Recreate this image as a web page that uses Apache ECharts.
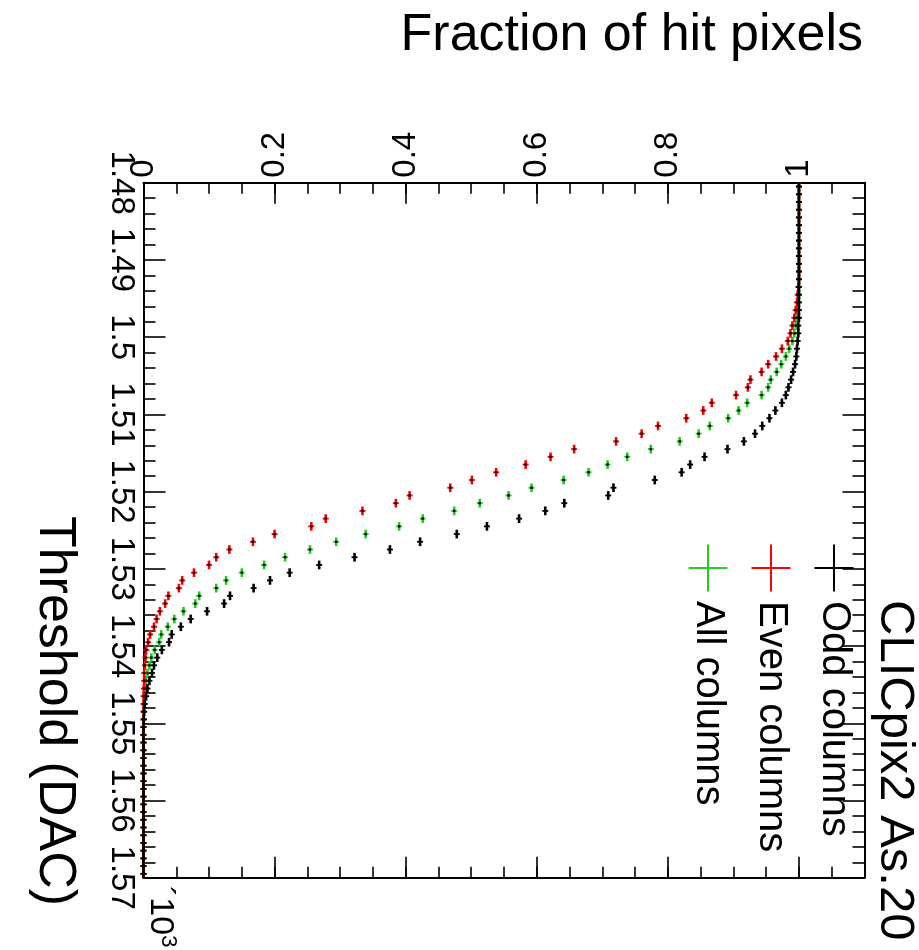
<!DOCTYPE html>
<html>
<head>
<meta charset="utf-8">
<script src="https://cdn.jsdelivr.net/npm/echarts@6/dist/echarts.min.js"></script>
<style>
  html, body { margin: 0; padding: 0; background: #fff; }
  #chart { width: 919px; height: 950px; }
</style>
</head>
<body>
<div id="chart"></div>
<script>
// Threshold bins (lower edge, DAC); each bin is 1 DAC wide
const bins = [
  1480,1481,1482,1483,1484,1485,1486,1487,1488,1489,
  1490,1491,1492,1493,1494,1495,1496,1497,1498,1499,
  1500,1501,1502,1503,1504,1505,1506,1507,1508,1509,
  1510,1511,1512,1513,1514,1515,1516,1517,1518,1519,
  1520,1521,1522,1523,1524,1525,1526,1527,1528,1529,
  1530,1531,1532,1533,1534,1535,1536,1537,1538,1539,
  1540,1541,1542,1543,1544,1545,1546,1547,1548,1549,
  1550,1551,1552,1553,1554,1555,1556,1557,1558,1559,
  1560,1561,1562,1563,1564,1565,1566,1567,1568,1569
];
// Fraction of hit pixels per bin
const oddCols = [
  1,1,1,1,1,1,1,1,1,1,
  1,1,1,1,1,1,1,1,0.999,0.999,
  0.998,0.997,0.996,0.994,0.991,0.988,0.984,0.980,0.974,0.964,
  0.955,0.944,0.933,0.916,0.891,0.856,0.834,0.821,0.780,0.717,
  0.709,0.642,0.613,0.573,0.524,0.478,0.422,0.376,0.322,0.268,
  0.223,0.193,0.168,0.132,0.123,0.097,0.072,0.057,0.043,0.039,
  0.028,0.021,0.016,0.013,0.009,0.006,0.004,0.002,0.001,0.0005,
  0,0,0,0,0,0,0,0,0,0,
  0,0,0,0,0,0,0,0,0,0
];
const evenCols = [
  1,1,1,1,1,1,1,1,1,1,
  1,1,1,0.999,0.998,0.997,0.995,0.993,0.990,0.987,
  0.983,0.974,0.965,0.953,0.943,0.926,0.922,0.904,0.867,0.854,
  0.828,0.785,0.760,0.721,0.657,0.621,0.583,0.538,0.501,0.468,
  0.406,0.385,0.334,0.278,0.256,0.200,0.167,0.131,0.111,0.100,
  0.077,0.059,0.054,0.038,0.033,0.025,0.020,0.016,0.010,0.007,
  0.004,0.003,0.002,0.001,0.001,0.0005,0,0,0,0,
  0,0,0,0,0,0,0,0,0,0,
  0,0,0,0,0,0,0,0,0,0
];
const allCols = [
  1,1,1,1,1,1,1,1,1,1,
  1,1,1,1,1,0.999,0.998,0.997,0.995,0.993,
  0.990,0.985,0.980,0.973,0.966,0.957,0.953,0.943,0.921,0.908,
  0.892,0.864,0.847,0.818,0.774,0.738,0.708,0.679,0.641,0.592,
  0.557,0.513,0.474,0.426,0.390,0.339,0.294,0.254,0.216,0.184,
  0.150,0.126,0.111,0.085,0.079,0.061,0.047,0.037,0.027,0.024,
  0.017,0.012,0.009,0.006,0.004,0.003,0.002,0.001,0.0005,0,
  0,0,0,0,0,0,0,0,0,0,
  0,0,0,0,0,0,0,0,0,0
];
const fracTicks = [0, 0.2, 0.4, 0.6, 0.8, 1];
const seriesNames = ['Odd columns', 'Even columns', 'All columns'];
const seriesColors = ['#000000', '#ff0000', '#22cc22'];
const legendHeader = 'CLICpix2 As.20';

const FONT = '"Liberation Sans", Arial, Helvetica, sans-serif';
const chart = echarts.init(document.getElementById('chart'), null, { renderer: 'canvas' });

function makeSeries(name, values, color, z) {
  return {
    name: name,
    type: 'custom',
    xAxisIndex: 0,
    yAxisIndex: 0,
    z: z,
    clip: false,
    data: bins.map((b, i) => [values[i], b]),
    renderItem: function (params, api) {
      const f = api.value(0), b = api.value(1);
      const p1 = api.coord([f, b]);
      const p2 = api.coord([f, b + 1]);
      const c = api.coord([f, b + 0.5]);
      return {
        type: 'group',
        children: [
          { type: 'line', shape: { x1: p1[0], y1: p1[1] - 0.5, x2: p2[0], y2: p2[1] + 0.5 },
            style: { stroke: color, lineWidth: 2.6 } },
          { type: 'line', shape: { x1: c[0] - 3, y1: c[1], x2: c[0] + 3, y2: c[1] },
            style: { stroke: color, lineWidth: 1.8 } },
          { type: 'rect', shape: { x: c[0] - 1.2, y: c[1] - 1.2, width: 2.4, height: 2.4 },
            style: { fill: '#000' } }
        ]
      };
    }
  };
}

const axisLineStyle = { color: '#000', width: 2 };
const tickLineStyle = { color: '#000', width: 1.6 };

function fracAxis(pos, major, showLine, showLabel) {
  const ax = {
    type: 'value', position: pos, min: 0, max: 1.1,
    interval: major ? 0.2 : 0.05,
    axisLine: { show: showLine, onZero: false, lineStyle: axisLineStyle },
    axisTick: { show: true, inside: true, length: major ? 21 : 11, lineStyle: tickLineStyle },
    axisLabel: { show: false },
    splitLine: { show: false }
  };
  if (major) {
    ax.axisTick.customValues = fracTicks;
  }
  if (showLabel) {
    ax.axisLabel = {
      show: true, customValues: fracTicks, rotate: -90, margin: 5,
      fontSize: 33, color: '#000', fontFamily: FONT,
      formatter: v => (v > 1.0001 ? '' : String(v))
    };
  }
  return ax;
}

function thrAxis(pos, showLabel) {
  return {
    type: 'value', position: pos, inverse: true, min: 1480, max: 1570, interval: 10,
    axisLine: { show: true, onZero: false, lineStyle: axisLineStyle },
    axisTick: { show: true, inside: true, length: 22, lineStyle: tickLineStyle },
    minorTick: { show: true, splitNumber: 5, length: 12, lineStyle: tickLineStyle },
    axisLabel: showLabel ? {
      show: true, rotate: -90, margin: 6, fontSize: 33, color: '#000', fontFamily: FONT,
      formatter: v => String(v / 1000)
    } : { show: false },
    splitLine: { show: false }
  };
}

const graphics = [
  { type: 'text', x: 863, y: 36, z: 100,
    style: { text: 'Fraction of hit pixels', font: '52px ' + FONT, fill: '#000', align: 'right', verticalAlign: 'middle' } },
  { type: 'text', x: 54, y: 906, rotation: -Math.PI / 2, z: 100,
    style: { text: 'Threshold (DAC)', font: '52px ' + FONT, fill: '#000', align: 'right', verticalAlign: 'middle' } },
  { type: 'text', x: 160, y: 886, rotation: -Math.PI / 2, z: 100,
    style: { text: '´10{sup|3}', font: '34px ' + FONT, fill: '#000', align: 'left', verticalAlign: 'middle',
      rich: { sup: { fontSize: 22, fontFamily: FONT, verticalAlign: 'top', padding: [0, 0, 16, 0] } } } },
  { type: 'text', x: 895, y: 600, rotation: -Math.PI / 2, z: 100,
    style: { text: legendHeader, font: '49px ' + FONT, fill: '#000', align: 'left', verticalAlign: 'middle' } }
];
const legendX = [834, 771, 708];
seriesNames.forEach((n, i) => {
  const cx = legendX[i], cy = 568;
  graphics.push({ type: 'line', z: 100, shape: { x1: cx - 19.5, y1: cy, x2: cx + 19.5, y2: cy },
    style: { stroke: seriesColors[i], lineWidth: 2 } });
  graphics.push({ type: 'line', z: 100, shape: { x1: cx, y1: cy - 23.5, x2: cx, y2: cy + 23.5 },
    style: { stroke: seriesColors[i], lineWidth: 2 } });
  graphics.push({ type: 'text', x: cx, y: 601, rotation: -Math.PI / 2, z: 100,
    style: { text: n, font: '40px ' + FONT, fill: '#000', align: 'left', verticalAlign: 'middle' } });
});

chart.setOption({
  backgroundColor: '#fff',
  animation: false,
  grid: { left: 143.5, right: 54.5, top: 182.7, bottom: 72.3, containLabel: false },
  xAxis: [
    fracAxis('top', true, true, true),
    fracAxis('top', false, false, false),
    fracAxis('bottom', true, true, false),
    fracAxis('bottom', false, false, false)
  ],
  yAxis: [
    thrAxis('left', true),
    thrAxis('right', false)
  ],
  graphic: graphics,
  series: [
    makeSeries(seriesNames[2], allCols, seriesColors[2], 2),
    makeSeries(seriesNames[1], evenCols, seriesColors[1], 3),
    makeSeries(seriesNames[0], oddCols, seriesColors[0], 4)
  ]
});
</script>
</body>
</html>
